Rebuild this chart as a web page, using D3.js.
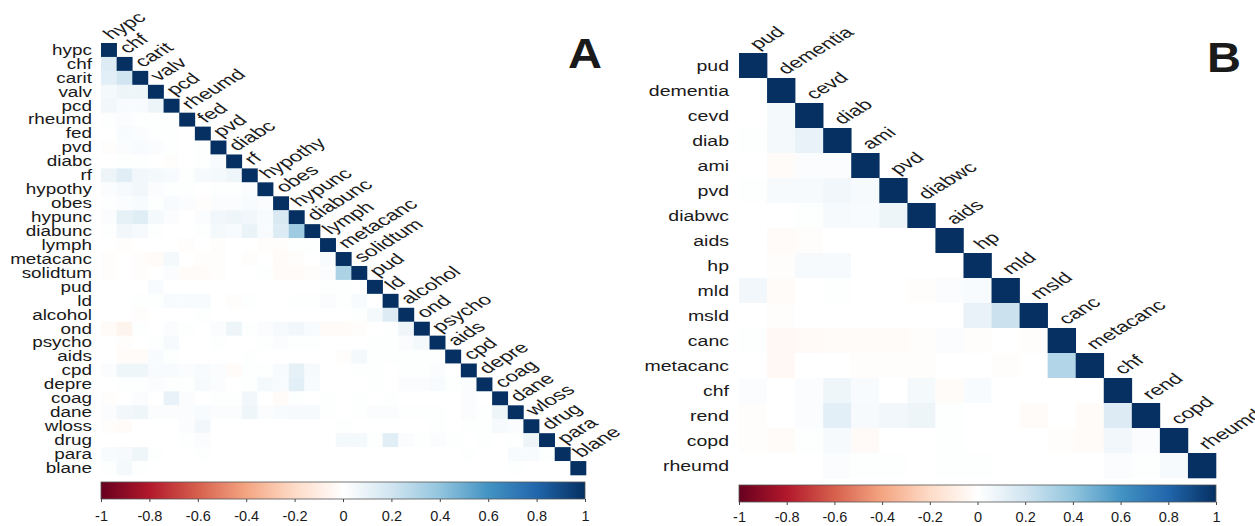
<!DOCTYPE html>
<html>
<head>
<meta charset="utf-8">
<script src="https://cdn.jsdelivr.net/npm/d3@7"></script>
<style>
  html, body { margin: 0; padding: 0; background: #fff; }
  svg { display: block; }
  text { font-family: "Liberation Sans", Arial, Helvetica, sans-serif; fill: #1a1a1a; }
</style>
</head>
<body>
<svg id="chart" width="1255" height="526"></svg>
<script>
// ---------------- DATA ----------------
const labelsA = ["hypc","chf","carit","valv","pcd","rheumd","fed","pvd","diabc","rf","hypothy","obes","hypunc","diabunc","lymph","metacanc","solidtum","pud","ld","alcohol","ond","psycho","aids","cpd","depre","coag","dane","wloss","drug","para","blane"];

// lower triangle: row i holds correlations with columns 0..i-1
const corrA = [
  [],
  [0.15],
  [0.12, 0.20],
  [0.05, 0.08, 0.08],
  [0.06, 0.03, 0.03, 0.08],
  [0.01, 0.02, 0.01, 0.01, 0.01],
  [0.00, 0.03, 0.02, 0.01, 0.01, 0.00],
  [-0.01, 0.02, 0.03, 0.02, 0.01, 0.00, 0.01],
  [0.00, 0.01, 0.01, 0.00, -0.01, 0.00, 0.01, 0.03],
  [0.08, 0.13, 0.06, 0.05, 0.03, 0.01, 0.04, 0.05, 0.07],
  [0.02, 0.04, 0.06, 0.02, 0.01, 0.01, 0.00, 0.01, 0.01, 0.02],
  [0.01, 0.02, 0.03, 0.01, 0.03, 0.02, -0.01, 0.02, 0.02, 0.03, 0.02],
  [0.02, 0.11, 0.14, 0.05, 0.02, 0.00, 0.02, 0.06, 0.07, 0.06, 0.03, 0.17],
  [0.01, 0.06, 0.04, 0.01, 0.00, 0.00, 0.01, 0.05, 0.03, 0.09, 0.03, 0.15, 0.36],
  [0.00, -0.01, 0.00, 0.00, 0.00, -0.01, 0.00, -0.01, 0.00, 0.00, -0.01, -0.01, 0.01, 0.01],
  [-0.01, 0.00, -0.01, -0.02, 0.05, 0.00, -0.01, -0.01, 0.00, -0.01, 0.00, -0.02, -0.01, 0.00, 0.03],
  [-0.01, 0.00, -0.01, 0.00, 0.02, -0.02, -0.02, -0.01, 0.00, 0.00, 0.01, -0.02, -0.02, -0.01, 0.02, 0.32],
  [0.00, 0.00, 0.00, 0.03, 0.00, 0.00, 0.00, 0.00, 0.00, 0.00, 0.00, 0.00, 0.00, 0.00, 0.01, 0.01, 0.00],
  [0.00, 0.00, 0.01, 0.01, 0.03, 0.03, 0.03, 0.00, -0.01, 0.01, 0.00, 0.00, 0.01, 0.01, 0.02, 0.01, 0.03, 0.00],
  [0.00, 0.00, -0.01, 0.00, 0.00, 0.00, 0.01, 0.00, 0.00, 0.00, 0.00, 0.00, 0.00, 0.00, 0.00, 0.00, 0.01, 0.05, 0.15],
  [-0.02, -0.06, 0.01, 0.00, 0.02, 0.01, 0.00, 0.02, 0.08, 0.01, 0.02, 0.04, 0.06, 0.03, -0.02, -0.02, -0.01, 0.00, 0.01, 0.07],
  [0.00, -0.01, 0.00, 0.01, 0.04, 0.00, 0.00, 0.01, 0.00, 0.00, 0.01, 0.02, 0.01, 0.01, 0.00, 0.00, 0.00, 0.01, 0.01, 0.02, 0.05],
  [0.00, -0.02, -0.02, 0.03, 0.01, 0.00, 0.00, 0.00, 0.00, 0.01, 0.00, 0.00, 0.00, 0.00, 0.00, -0.01, 0.05, 0.01, 0.01, 0.01, 0.01, 0.01],
  [0.02, 0.07, 0.07, 0.03, 0.03, 0.02, 0.03, 0.02, -0.02, 0.01, 0.01, 0.03, 0.11, 0.04, 0.00, 0.00, 0.01, 0.01, 0.00, 0.01, 0.01, 0.02, 0.00],
  [0.00, 0.01, 0.01, 0.02, 0.01, 0.01, 0.04, 0.02, 0.00, 0.01, 0.05, 0.03, 0.12, 0.03, 0.00, 0.00, 0.00, 0.01, 0.00, 0.02, 0.02, 0.03, 0.01, 0.02],
  [-0.01, 0.00, 0.02, 0.00, 0.10, 0.02, 0.00, 0.01, 0.01, 0.06, 0.00, -0.02, 0.01, 0.00, 0.01, 0.00, 0.01, 0.00, 0.01, 0.00, 0.00, 0.00, 0.00, 0.02, 0.00],
  [0.02, 0.06, 0.07, 0.02, 0.02, 0.02, 0.03, 0.02, 0.02, 0.07, 0.02, 0.03, 0.04, 0.04, 0.01, 0.00, 0.01, 0.02, 0.02, 0.01, 0.01, 0.01, 0.00, 0.02, 0.01, 0.08],
  [-0.01, -0.02, 0.00, 0.00, 0.00, 0.02, 0.06, 0.00, 0.00, 0.00, 0.00, 0.00, 0.00, 0.00, 0.00, 0.01, 0.00, 0.00, 0.00, 0.00, 0.00, 0.01, 0.00, 0.01, 0.01, 0.04, 0.02],
  [0.00, 0.00, 0.00, 0.00, 0.00, 0.01, 0.02, 0.00, 0.00, 0.00, 0.00, 0.00, 0.00, 0.00, 0.00, 0.05, 0.05, 0.01, 0.13, 0.02, 0.01, 0.02, 0.01, 0.00, 0.01, 0.00, 0.01, 0.08],
  [0.03, 0.04, 0.07, 0.01, 0.00, 0.00, 0.01, 0.00, 0.00, 0.00, 0.00, 0.00, 0.00, 0.00, 0.00, 0.00, 0.00, 0.00, 0.00, 0.00, 0.00, 0.00, 0.00, 0.01, 0.00, 0.00, 0.03, 0.03, 0.01],
  [0.01, 0.05, 0.01, 0.00, 0.00, 0.00, 0.00, 0.00, 0.00, 0.00, 0.00, 0.00, 0.00, 0.00, 0.00, 0.00, 0.00, 0.00, 0.00, 0.00, 0.00, 0.00, 0.00, 0.00, 0.00, 0.00, 0.01, 0.00, 0.00, 0.00]
];

const labelsB = ["pud","dementia","cevd","diab","ami","pvd","diabwc","aids","hp","mld","msld","canc","metacanc","chf","rend","copd","rheumd"];

const corrB = [
  [],
  [0.00],
  [0.00, 0.05],
  [0.01, 0.05, 0.10],
  [0.00, -0.02, 0.02, 0.02],
  [0.01, 0.04, 0.04, 0.06, 0.04],
  [0.00, 0.00, 0.01, 0.04, 0.03, 0.08],
  [0.00, -0.02, -0.01, 0.00, 0.00, 0.00, 0.00],
  [0.00, -0.01, 0.04, 0.04, 0.00, 0.00, 0.00, 0.00],
  [0.06, -0.02, 0.00, 0.01, 0.00, 0.00, -0.01, 0.02, 0.03],
  [0.00, -0.01, 0.00, 0.00, 0.00, 0.00, 0.00, 0.00, 0.10, 0.22],
  [0.01, -0.04, -0.03, -0.02, -0.02, -0.02, -0.01, 0.02, -0.01, 0.00, -0.01],
  [0.00, -0.04, 0.00, 0.00, -0.01, -0.01, -0.01, 0.00, 0.00, -0.01, 0.00, 0.30],
  [0.02, 0.00, 0.02, 0.07, 0.03, 0.00, 0.05, -0.02, 0.03, 0.00, 0.00, 0.00, 0.00],
  [-0.01, 0.00, 0.02, 0.12, 0.04, 0.06, 0.08, 0.01, 0.00, 0.00, -0.02, 0.00, -0.02, 0.15],
  [-0.01, -0.02, 0.01, 0.04, -0.03, 0.00, 0.00, 0.01, 0.00, 0.00, 0.00, -0.01, -0.02, 0.06, 0.02],
  [0.00, 0.00, 0.00, 0.02, 0.01, 0.01, 0.00, 0.01, 0.01, 0.00, 0.00, 0.00, 0.00, 0.02, 0.01, 0.04]
];

const tickValues = [-1, -0.8, -0.6, -0.4, -0.2, 0, 0.2, 0.4, 0.6, 0.8, 1];
const tickLabels = ["-1", "-0.8", "-0.6", "-0.4", "-0.2", "0", "0.2", "0.4", "0.6", "0.8", "1"];

// corrplot RdBu palette
const paletteStops = [-1, -0.8, -0.6, -0.4, -0.2, 0, 0.2, 0.4, 0.6, 0.8, 1];
const paletteColors = ["#67001F","#B2182B","#D6604D","#F4A582","#FDDBC7","#FFFFFF","#D1E5F0","#92C5DE","#4393C3","#2166AC","#053061"];

// ---------------- DRAW ----------------
const color = d3.scaleLinear().domain(paletteStops).range(paletteColors).interpolate(d3.interpolateRgb).clamp(true);
const svg = d3.select("#chart");

const defs = svg.append("defs");
const grad = defs.append("linearGradient").attr("id", "rdbu").attr("x1", "0%").attr("x2", "100%").attr("y1", "0%").attr("y2", "0%");
d3.range(0, 41).forEach(k => {
  const v = -1 + k * 0.05;
  grad.append("stop").attr("offset", (k / 40 * 100) + "%").attr("stop-color", color(v));
});

function drawPanel(cfg) {
  const g = svg.append("g");
  const n = cfg.labels.length;
  const x = d3.scaleBand().domain(d3.range(n)).range([cfg.x0, cfg.x1]);
  const y = d3.scaleBand().domain(d3.range(n)).range([cfg.y0, cfg.y1]);

  // cells (lower triangle + diagonal)
  const cells = [];
  cfg.corr.forEach((row, i) => {
    row.forEach((v, j) => cells.push({ i, j, v }));
    cells.push({ i, j: i, v: 1 });
  });
  g.selectAll("rect.cell").data(cells).join("rect")
    .attr("class", "cell")
    .attr("x", d => x(d.j))
    .attr("y", d => y(d.i))
    .attr("width", x.bandwidth() + 0.3)
    .attr("height", y.bandwidth() + 0.3)
    .attr("fill", d => color(d.v));

  // left labels
  g.selectAll("text.rowlab").data(cfg.labels).join("text")
    .attr("class", "rowlab")
    .attr("transform", (d, i) => `translate(${cfg.labelRight},${y(i) + y.bandwidth() / 2}) scale(${cfg.sxLeft},1)`)
    .attr("text-anchor", "end")
    .attr("dominant-baseline", "central")
    .style("font-size", cfg.fontSize + "px")
    .text(d => d);

  // diagonal top labels
  g.selectAll("text.collab").data(cfg.labels).join("text")
    .attr("class", "collab")
    .attr("transform", (d, i) => `translate(${x(i) + x.bandwidth() / 2 + cfg.topDx},${y(i) - 3}) scale(${cfg.sxTop},1) rotate(${-cfg.rot})`)
    .attr("text-anchor", "start")
    .style("font-size", cfg.fontSize + "px")
    .text(d => d);

  // colour bar
  g.append("rect")
    .attr("x", cfg.barX0).attr("y", cfg.barY)
    .attr("width", cfg.barX1 - cfg.barX0).attr("height", cfg.barH)
    .attr("fill", "url(#rdbu)")
    .attr("stroke", "#555").attr("stroke-width", 0.8);

  const bx = d3.scaleLinear().domain([-1, 1]).range([cfg.barX0, cfg.barX1]);
  const axis = d3.axisBottom(bx).tickValues(tickValues).tickSize(3).tickPadding(cfg.tickPad)
    .tickFormat((d, i) => tickLabels[i]);
  const ax = g.append("g").attr("transform", `translate(0,${cfg.barY + cfg.barH})`).call(axis);
  ax.select(".domain").remove();
  ax.selectAll(".tick line").attr("stroke", "#444");
  ax.selectAll(".tick text").style("font-size", "14.5px").style("font-family", '"Liberation Sans", Arial, sans-serif').attr("fill", "#1a1a1a");

  // panel letter
  g.append("text")
    .attr("transform", `translate(${cfg.letterX},${cfg.letterY}) scale(1.12,1)`)
    .style("font-size", "42px").style("font-weight", "bold")
    .attr("fill", "#000")
    .text(cfg.letter);
}

drawPanel({
  labels: labelsA, corr: corrA,
  x0: 101, x1: 586, y0: 43, y1: 475,
  labelRight: 92, fontSize: 15, sxLeft: 1.26, sxTop: 1.5, rot: 42, topDx: 3,
  barX0: 101, barX1: 585, barY: 482, barH: 17, tickPad: 9,
  letter: "A", letterX: 568, letterY: 68
});

drawPanel({
  labels: labelsB, corr: corrB,
  x0: 739, x1: 1216, y0: 53, y1: 478,
  labelRight: 729, fontSize: 15, sxLeft: 1.3, sxTop: 1.5, rot: 42, topDx: 5,
  barX0: 739, barX1: 1216, barY: 485, barH: 17, tickPad: 7,
  letter: "B", letterX: 1207, letterY: 72
});
</script>
</body>
</html>
